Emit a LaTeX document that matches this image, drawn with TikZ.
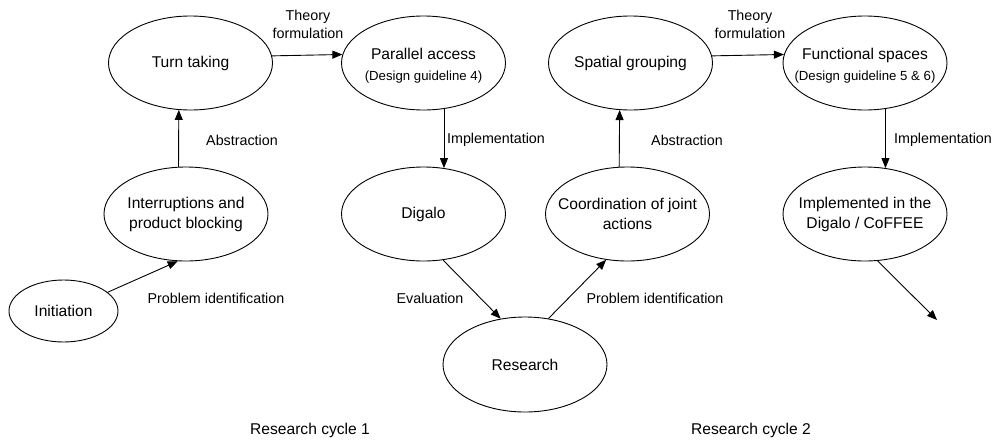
\documentclass[tikz,border=0pt]{standalone}
\usepackage{fontspec}
\setmainfont{Liberation Sans}
\usetikzlibrary{shapes.geometric,arrows.meta}
\begin{document}
\begin{tikzpicture}[x=1pt,y=-1pt,
  ell/.style={draw,ellipse,minimum width=164pt,minimum height=94pt,inner xsep=-25pt,inner ysep=0pt,align=center,
    font=\fontsize{15.6}{20}\selectfont,line width=0.9pt},
  lbl/.style={inner sep=0pt,align=center,font=\fontsize{14.3}{18}\selectfont},
  cyc/.style={inner sep=0pt,font=\fontsize{15.6}{19}\selectfont},
  arr/.style={-{Triangle[length=10pt,width=8pt]},line width=0.9pt}]
\useasboundingbox (0,0) rectangle (998,442);
\newcommand{\subt}[1]{{\fontsize{13.2}{16}\selectfont #1}}
% nodes
\node[ell] (tt) at (190.5,63) {Turn taking};
\node[ell] (pa) at (423.5,63) {\rule{0pt}{17pt}Parallel access\\[1pt]\subt{(Design guideline 4)}};
\node[ell] (sg) at (630.5,63) {Spatial grouping};
\node[ell] (fs) at (865,63) {\rule{0pt}{17pt}Functional spaces\\[1pt]\subt{(Design guideline 5 \& 6)}};
\node[ell] (ib) at (186,214) {Interruptions and\\product blocking};
\node[ell] (dg) at (423.5,214) {Digalo};
\node[ell] (co) at (627.5,214) {Coordination of joint\\actions};
\node[ell] (im) at (865,214) {Implemented in the\\Digalo / CoFFEE};
\node[ell,minimum width=109pt,minimum height=62pt] (ini) at (63.5,311) {Initiation};
\node[ell,minimum height=95pt] (rs) at (525,364.5) {Research};
\coordinate (end) at (937,320);
% connectors
\draw[arr] (tt.5.65) -- (pa.174.35);
\draw[arr] (sg.5.65) -- (fs.174.35);
\draw[arr] (ib.99.7) -- (tt.-104.5);
\draw[arr] (co.100.3) -- (sg.-103.9);
\draw[arr] (pa.-66.9) -- (dg.66.9);
\draw[arr] (fs.-66.3) -- (im.66.3);
\draw[arr] (ini.23.1) -- (ib.-100.8);
\draw[arr] (dg.-67.5) -- (rs.118.9);
\draw[arr] (rs.63.2) -- (co.-115);
\draw[arr] (im.-75.7) -- (end);
% labels
\node[lbl] (th1) at (308,24) {Theory\\formulation};
\node[lbl] (th2) at (750,24) {Theory\\formulation};
\node[lbl] (ab1) at (242,140) {Abstraction};
\node[lbl] (ab2) at (687,140) {Abstraction};
\node[lbl] (im1) at (496,140) {Implementation};
\node[lbl] (im2) at (943,140) {Implementation};
\node[lbl] (pi1) at (216,298) {Problem identification};
\node[lbl] (ev) at (430,298) {Evaluation};
\node[lbl] (pi2) at (655,298) {Problem identification};
\node[cyc] (rc1) at (310,430) {Research cycle 1};
\node[cyc] (rc2) at (751,430) {Research cycle 2};
\end{tikzpicture}
\end{document}
